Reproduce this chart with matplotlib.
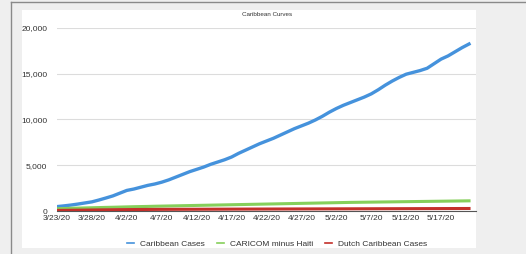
import numpy as np
import matplotlib
matplotlib.use('Agg')
import matplotlib.pyplot as plt
from matplotlib.patches import Rectangle
from matplotlib.lines import Line2D

plt.rcParams['font.family'] = ['Liberation Sans', 'DejaVu Sans']

# dates shown on the category axis (3/23/20 .. 5/21/20)
dates = ['3/%d/20' % d for d in range(23, 32)] + \
        ['4/%d/20' % d for d in range(1, 31)] + \
        ['5/%d/20' % d for d in range(1, 22)]

caribbean = [480, 560, 650, 760, 880, 1000, 1200, 1420, 1650, 1950,
             2250, 2400, 2600, 2800, 2950, 3150, 3400, 3700, 4000, 4300,
             4550, 4800, 5100, 5350, 5600, 5900, 6300, 6650, 7000, 7350,
             7650, 7950, 8300, 8650, 9000, 9300, 9600, 9950, 10350, 10800,
             11200, 11550, 11850, 12150, 12450, 12800, 13250, 13750, 14200, 14600,
             14950, 15150, 15350, 15600, 16100, 16600, 16950, 17400, 17850, 18250]

caricom_minus_haiti = [250, 270, 295, 315, 335, 355, 375, 395, 410, 430,
                       450, 470, 485, 500, 520, 535, 550, 565, 580, 595,
                       610, 625, 640, 655, 670, 685, 700, 715, 730, 745,
                       760, 775, 790, 805, 820, 835, 850, 865, 880, 895,
                       910, 925, 940, 950, 960, 970, 980, 990, 1000, 1010,
                       1020, 1030, 1040, 1050, 1060, 1070, 1080, 1090, 1100, 1110]

dutch_caribbean = [60, 70, 80, 90, 100, 110, 120, 130, 140, 150,
                   155, 160, 165, 170, 175, 180, 182, 185, 188, 190,
                   192, 195, 197, 200, 202, 205, 207, 210, 212, 214,
                   216, 218, 220, 222, 224, 226, 228, 230, 232, 234,
                   236, 238, 240, 242, 244, 246, 248, 250, 252, 254,
                   256, 258, 260, 262, 264, 266, 268, 270, 272, 274]

yticks = [0, 5000, 10000, 15000, 20000]

W, H = 526, 254
fig = plt.figure(figsize=(W / 100, H / 100), dpi=100, facecolor='#efefef')

# white chart panel + frame lines
fig.patches.append(Rectangle((22 / W, 1 - 248 / H), (476 - 22) / W, (248 - 10) / H,
                             transform=fig.transFigure, facecolor='white', edgecolor='none', zorder=-5))
fig.lines.append(Line2D([11 / W, 11 / W], [0, 1 - 2 / H], transform=fig.transFigure, color='#8a8a8a', lw=1))
fig.lines.append(Line2D([11 / W, 1], [1 - 2 / H, 1 - 2 / H], transform=fig.transFigure, color='#8a8a8a', lw=1))

ax = fig.add_axes([57 / W, 43 / H, 419 / W, 183 / H])
ax.set_facecolor('none')
ax.set_zorder(2)

x = np.arange(len(dates))
ax.plot(x, caribbean, color='#4592dc', lw=2.4, label='Caribbean Cases', zorder=3)
ax.plot(x, caricom_minus_haiti, color='#86cf5b', lw=2.2, label='CARICOM minus Haiti', zorder=3)
ax.plot(x, dutch_caribbean, color='#c4302a', lw=2.2, label='Dutch Caribbean Cases', zorder=3)

ax.set_xlim(0, 60)
ax.set_ylim(0, 20000)
ax.set_yticks(yticks)
ax.set_yticklabels(['{:,}'.format(v) for v in yticks])
ax.set_xticks(x[::5])
ax.set_xticklabels(dates[::5])
ax.tick_params(axis='both', length=0, labelsize=6, colors='#333333')
ax.tick_params(axis='y', pad=7)
ax.tick_params(axis='x', pad=3)

ax.grid(axis='y', color='#dcdcdc', lw=0.8)
ax.set_axisbelow(True)
for s in ['top', 'right', 'left']:
    ax.spines[s].set_visible(False)
ax.spines['bottom'].set_color('#555555')
ax.spines['bottom'].set_linewidth(0.8)

fig.text(267 / W, 1 - 15 / H, 'Caribbean Curves', ha='center', va='center', fontsize=4.5, color='#333333')

leg = fig.legend(loc='center', bbox_to_anchor=(277 / W, 1 - 244 / H), ncol=3, frameon=False,
                 fontsize=6, handlelength=0.9, columnspacing=1.4, handletextpad=0.7,
                 labelcolor='#333333')
for h in leg.legend_handles:
    h.set_linewidth(1.2)

fig.savefig('out.png', dpi=100, facecolor=fig.get_facecolor())
